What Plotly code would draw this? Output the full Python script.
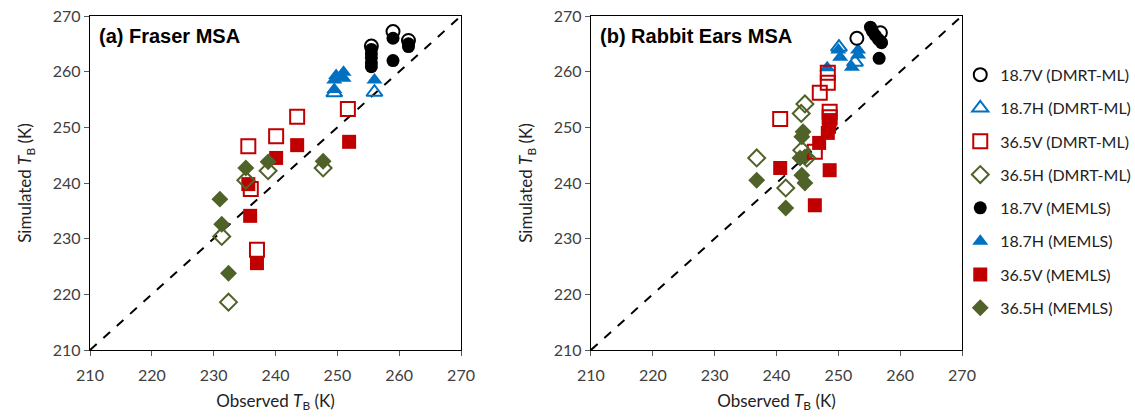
import plotly.graph_objects as go

# ---------------- data ----------------
series_names = ["18.7V (DMRT-ML)", "18.7H (DMRT-ML)", "36.5V (DMRT-ML)", "36.5H (DMRT-ML)",
                "18.7V (MEMLS)", "18.7H (MEMLS)", "36.5V (MEMLS)", "36.5H (MEMLS)"]

# Panel (a) Fraser MSA
a_v187_dmrt_x = [255.5, 259.0, 261.5]
a_v187_dmrt_y = [264.6, 267.2, 265.6]
a_h187_dmrt_x = [249.5, 256.0]
a_h187_dmrt_y = [256.2, 256.3]
a_v365_dmrt_x = [251.7, 243.5, 240.1, 235.6, 236.0, 237.0]
a_v365_dmrt_y = [253.3, 251.9, 248.4, 246.6, 238.9, 228.0]
a_h365_dmrt_x = [247.7, 238.8, 235.2, 231.3, 232.4]
a_h365_dmrt_y = [242.7, 242.2, 240.5, 230.4, 218.6]
a_v187_memls_x = [255.5, 255.5, 255.5, 255.5, 255.5, 259.0, 259.0, 261.5, 261.5]
a_v187_memls_y = [264.0, 263.2, 262.5, 261.6, 260.9, 266.0, 262.0, 265.0, 264.5]
a_h187_memls_x = [249.5, 249.5, 249.8, 251.0, 251.0, 256.0]
a_h187_memls_y = [256.8, 258.5, 259.3, 259.9, 258.8, 258.5]
a_v365_memls_x = [251.9, 243.5, 240.1, 235.6, 235.9, 237.0]
a_v365_memls_y = [247.4, 246.8, 244.5, 239.8, 234.1, 225.6]
a_h365_memls_x = [247.7, 238.8, 235.2, 231.0, 231.3, 232.4]
a_h365_memls_y = [243.9, 243.8, 242.7, 237.1, 232.6, 223.8]

# Panel (b) Rabbit Ears MSA
b_v187_dmrt_x = [253.0, 256.8]
b_v187_dmrt_y = [266.0, 267.0]
b_h187_dmrt_x = [250.1, 252.7]
b_h187_dmrt_y = [264.4, 261.7]
b_v365_dmrt_x = [240.6, 247.0, 248.3, 248.3, 248.6, 248.6, 246.2]
b_v365_dmrt_y = [251.5, 256.2, 258.0, 259.8, 252.8, 251.8, 245.6]
b_h365_dmrt_x = [244.6, 244.0, 244.1, 244.9, 236.8, 241.5]
b_h365_dmrt_y = [254.2, 252.5, 245.9, 244.5, 244.5, 239.1]
b_v187_memls_x = [255.2, 255.5, 256.0, 256.5, 257.0, 256.6]
b_v187_memls_y = [268.0, 267.3, 266.5, 265.8, 265.2, 262.4]
b_h187_memls_x = [248.2, 250.0, 250.3, 253.2, 253.2, 252.2]
b_h187_memls_y = [260.7, 263.9, 262.6, 263.9, 263.0, 260.8]
b_v365_memls_x = [240.6, 248.6, 248.5, 248.3, 246.9, 248.6, 246.2]
b_v365_memls_y = [242.7, 251.3, 250.1, 249.0, 247.2, 242.3, 236.0]
b_h365_memls_x = [244.3, 244.1, 243.8, 244.6, 244.1, 244.6, 236.8, 241.5]
b_h365_memls_y = [249.2, 248.3, 244.5, 244.7, 241.4, 240.0, 240.5, 235.5]

one_to_one = [210, 270]
tick_vals = [210, 220, 230, 240, 250, 260, 270]
panel_titles = ["(a) Fraser MSA", "(b) Rabbit Ears MSA"]

# ---------------- styles ----------------
styles = [
    dict(symbol="circle-open", color="black", size=13),
    dict(symbol="triangle-up-open", color="#0070C0", size=14),
    dict(symbol="square-open", color="#C00000", size=14),
    dict(symbol="diamond-open", color="#4F6228", size=13),
    dict(symbol="circle", color="black", size=13),
    dict(symbol="triangle-up", color="#0070C0", size=14),
    dict(symbol="square", color="#C00000", size=14),
    dict(symbol="diamond", color="#4F6228", size=13),
]

panel_a = [(a_v187_dmrt_x, a_v187_dmrt_y), (a_h187_dmrt_x, a_h187_dmrt_y),
           (a_v365_dmrt_x, a_v365_dmrt_y), (a_h365_dmrt_x, a_h365_dmrt_y),
           (a_v187_memls_x, a_v187_memls_y), (a_h187_memls_x, a_h187_memls_y),
           (a_v365_memls_x, a_v365_memls_y), (a_h365_memls_x, a_h365_memls_y)]
panel_b = [(b_v187_dmrt_x, b_v187_dmrt_y), (b_h187_dmrt_x, b_h187_dmrt_y),
           (b_v365_dmrt_x, b_v365_dmrt_y), (b_h365_dmrt_x, b_h365_dmrt_y),
           (b_v187_memls_x, b_v187_memls_y), (b_h187_memls_x, b_h187_memls_y),
           (b_v365_memls_x, b_v365_memls_y), (b_h365_memls_x, b_h365_memls_y)]

fig = go.Figure()

# 1:1 lines
for xa, ya in [("x", "y"), ("x2", "y2")]:
    fig.add_trace(go.Scatter(x=one_to_one, y=one_to_one, mode="lines",
                             line=dict(color="black", width=2, dash="dash"),
                             showlegend=False, hoverinfo="skip", xaxis=xa, yaxis=ya))

order = [4, 5, 6, 7, 0, 1, 2, 3]
for pi, (panel, xa, ya) in enumerate([(panel_a, "x", "y"), (panel_b, "x2", "y2")]):
    for i in order:
        st = styles[i]
        xs, ys = panel[i]
        open_ = st["symbol"].endswith("open")
        fig.add_trace(go.Scatter(
            x=xs, y=ys, mode="markers", name=series_names[i],
            legendgroup=series_names[i], legendrank=i,
            showlegend=(pi == 0),
            marker=dict(symbol=st["symbol"], size=st["size"], color=st["color"],
                        line=dict(width=2 if open_ else 0, color=st["color"])),
            xaxis=xa, yaxis=ya))

axis_common = dict(range=[210, 270], tickvals=tick_vals, showgrid=False, zeroline=False,
                   showline=True, linecolor="black", linewidth=1.3, mirror=True,
                   ticks="outside", ticklen=5, tickcolor="#595959", tickwidth=1,
                   automargin=False,
                   tickfont=dict(family="Lato", size=16, color="#404040"))

xtitle = dict(text="Observed <i>T</i><sub>B</sub> (K)", font=dict(family="Lato", size=17, color="#222222"),
              standoff=11)
ytitle = dict(text="Simulated <i>T</i><sub>B</sub> (K)", font=dict(family="Lato", size=17, color="#222222"),
              standoff=16)

fig.update_layout(
    width=1135, height=417,
    margin=dict(l=90, r=173, t=16, b=67, autoexpand=False),
    plot_bgcolor="white", paper_bgcolor="white",
    xaxis=dict(domain=[0, 0.4255], anchor="y", title=xtitle, ticklabelstandoff=6, **axis_common),
    yaxis=dict(domain=[0, 1], anchor="x", title=ytitle, **axis_common),
    xaxis2=dict(domain=[0.5745, 1], anchor="y2", title=xtitle, ticklabelstandoff=6, **axis_common),
    yaxis2=dict(domain=[0, 1], anchor="x2", title=ytitle, **axis_common),
    legend=dict(x=0.998, y=0.875, xanchor="left", yanchor="top",
                font=dict(family="Lato", size=16, color="#222222"),
                traceorder="grouped", tracegroupgap=9.5, itemwidth=30,
                bgcolor="rgba(0,0,0,0)"),
    showlegend=True,
)

for i, (xr, yr) in enumerate([("x domain", "y domain"), ("x2 domain", "y2 domain")]):
    fig.add_annotation(text="<b>" + panel_titles[i] + "</b>", xref=xr, yref=yr,
                       x=0.018, y=0.94, xanchor="left", yanchor="middle", showarrow=False,
                       font=dict(family="Liberation Sans", size=20, color="black"))

fig.write_html("out.html")
